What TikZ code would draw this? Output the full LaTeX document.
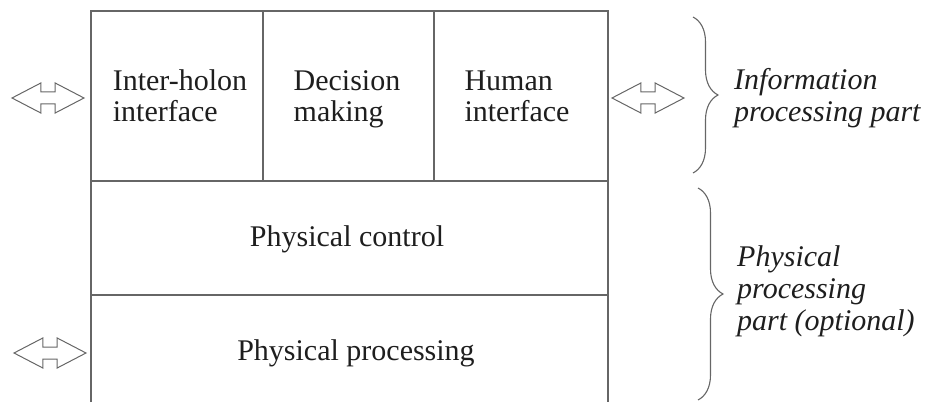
\documentclass[tikz,border=0pt]{standalone}
\usepackage{fontspec}
\setmainfont{Liberation Serif}
\usetikzlibrary{shapes.arrows,decorations.pathreplacing}
\definecolor{linegray}{HTML}{666666}
\definecolor{textgray}{HTML}{1E1E1E}
\begin{document}
\begin{tikzpicture}[x=1pt,y=1pt,
		frame/.style={draw=linegray,line width=1.3pt},
		label/.style={text=textgray,align=left,inner sep=0pt,anchor=base,font=\fontsize{30}{31.5}\selectfont},
		part/.style={label,anchor=base west,font=\fontsize{30}{32}\selectfont\itshape},
		exchange/.style={double arrow,draw=linegray,line width=1pt,inner sep=5.5pt,minimum height=72pt,double arrow head extend=9pt,double arrow tip angle=55},
		partbrace/.style={draw=linegray,line width=1.1pt,decorate,decoration={brace,amplitude=25pt}}]
	\useasboundingbox (0,0) rectangle (929,402);
	\draw[frame] (91,0) -- (91,391) -- (608,391) -- (608,0);
	\draw[frame] (91,221) -- (608,221);
	\draw[frame] (91,107) -- (608,107);
	\draw[frame] (263,221) -- (263,391);
	\draw[frame] (434,221) -- (434,391);
	\node[label] (interholon) at (180,280) {Inter-holon\\interface};
	\node[label] (decision) at (347,280) {Decision\\making};
	\node[label] (human) at (517,280) {Human\\interface};
	\node[label] (control) at (347,155) {Physical control};
	\node[label] (processing) at (356,42) {Physical processing};
	\node[exchange] (xleft) at (48,304) {};
	\node[exchange] (xright) at (648,304) {};
	\node[exchange] (xbottom) at (50,49) {};
	\coordinate (infotop) at (693,385);
	\coordinate (infobot) at (693,229);
	\coordinate (phystop) at (698,214);
	\coordinate (physbot) at (698,2);
	\draw[partbrace] (infotop) -- (infobot);
	\draw[partbrace] (phystop) -- (physbot);
	\node[part] (infopart) at (734,280) {Information\\processing part};
	\node[part] (physpart) at (737,72) {Physical\\processing\\part (optional)};
\end{tikzpicture}
\end{document}
